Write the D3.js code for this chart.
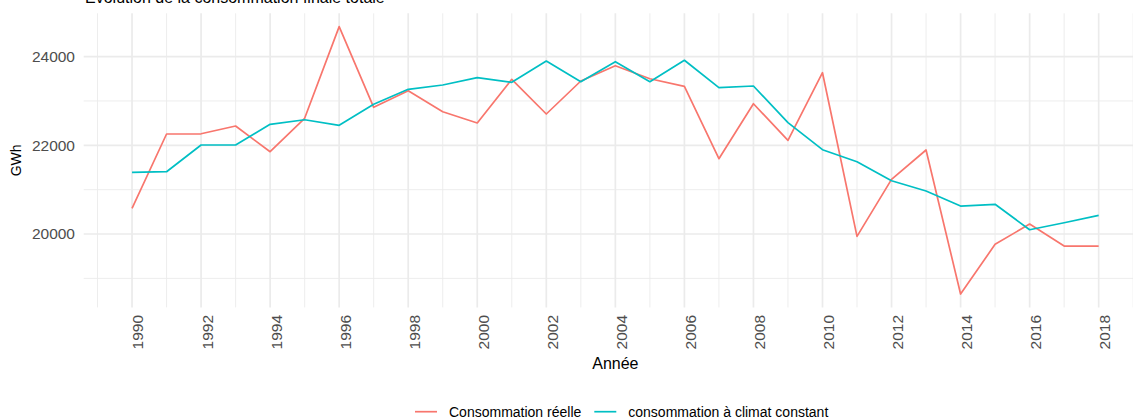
<!DOCTYPE html>
<html>
<head>
<meta charset="utf-8">
<script src="https://cdn.jsdelivr.net/npm/d3@7"></script>
<style>
  body { margin: 0; background: #fff; }
  svg { display: block; font-family: "Liberation Sans", Arial, sans-serif; }
</style>
</head>
<body>
<div id="chart"></div>
<script>
// Data
const years = d3.range(1990, 2019);
const consoReelle = [20580, 22255, 22260, 22435, 21856, 22609, 24675, 22857, 23231, 22758,
  22503, 23488, 22706, 23450, 23795, 23500, 23330, 21698, 22938, 22113,
  23637, 19948, 21233, 21894, 18647, 19768, 20225, 19729, 19729];
const consoClimat = [21391, 21405, 22007, 22007, 22474, 22577, 22451, 22925, 23263, 23360,
  23525, 23420, 23901, 23435, 23886, 23435, 23917, 23299, 23337, 22510,
  21901, 21630, 21202, 20970, 20631, 20670, 20097, 20255, 20422];
const yTicks = [20000, 22000, 24000];
const yMinor = [19000, 21000, 23000];
const xTicks = d3.range(1990, 2019, 2);
const xMinor = d3.range(1989, 2020, 2);
const seriesNames = ['Consommation réelle', 'consommation à climat constant'];
const seriesColors = ['#F8766D', '#00BFC4'];

const W = 1133, H = 417;
const panel = {left: 83.7, right: 1147, top: 13.3, bottom: 307.4};

const svg = d3.select('#chart').append('svg')
  .attr('width', W).attr('height', H);

// Scales with ggplot-like 5% expansion
const xExt = d3.extent(years), xPad = (xExt[1] - xExt[0]) * 0.05;
const x = d3.scaleLinear().domain([xExt[0] - xPad, xExt[1] + xPad]).range([panel.left, panel.right]);
const yExt = d3.extent(consoReelle.concat(consoClimat)), yPad = (yExt[1] - yExt[0]) * 0.05;
const y = d3.scaleLinear().domain([yExt[0] - yPad, yExt[1] + yPad]).range([panel.bottom, panel.top]);

// Grid
const grid = svg.append('g').attr('stroke', '#ebebeb').attr('fill', 'none');
grid.selectAll('.ymin').data(yMinor).join('line')
  .attr('x1', panel.left).attr('x2', panel.right)
  .attr('y1', d => y(d)).attr('y2', d => y(d)).attr('stroke-width', 0.9);
grid.selectAll('.xmin').data(xMinor).join('line')
  .attr('x1', d => x(d)).attr('x2', d => x(d))
  .attr('y1', panel.top).attr('y2', panel.bottom).attr('stroke-width', 0.9);
grid.selectAll('.ymaj').data(yTicks).join('line')
  .attr('x1', panel.left).attr('x2', panel.right)
  .attr('y1', d => y(d)).attr('y2', d => y(d)).attr('stroke-width', 1.7);
grid.selectAll('.xmaj').data(xTicks).join('line')
  .attr('x1', d => x(d)).attr('x2', d => x(d))
  .attr('y1', panel.top).attr('y2', panel.bottom).attr('stroke-width', 1.7);

// Lines
const line = d3.line().x((d, i) => x(years[i])).y(d => y(d));
[consoReelle, consoClimat].forEach((s, i) => {
  svg.append('path').datum(s)
    .attr('fill', 'none')
    .attr('stroke', seriesColors[i])
    .attr('stroke-width', 1.7)
    .attr('stroke-linejoin', 'round')
    .attr('d', line);
});

// Axis labels
svg.append('g').selectAll('text').data(yTicks).join('text')
  .attr('x', 75).attr('y', d => y(d)).attr('dy', '0.35em')
  .attr('text-anchor', 'end').attr('fill', '#4d4d4d').style('font-size', '15.5px')
  .text(d => d);

svg.append('g').selectAll('text').data(xTicks).join('text')
  .attr('transform', d => `translate(${x(d) + 6},315) rotate(-90)`)
  .attr('dy', '0.35em')
  .attr('text-anchor', 'end').attr('fill', '#4d4d4d').style('font-size', '15.5px')
  .text(d => d);

// Titles
svg.append('text')
  .attr('x', 85).attr('y', 3)
  .style('font-size', '16px').attr('fill', '#000')
  .text('Évolution de la consommation finale totale');

svg.append('text')
  .attr('x', (panel.left + panel.right) / 2).attr('y', 363).attr('dy', '0.35em')
  .attr('text-anchor', 'middle').style('font-size', '16px').attr('fill', '#000')
  .text('Année');

svg.append('text')
  .attr('transform', `translate(16,${(panel.top + panel.bottom) / 2}) rotate(-90)`)
  .attr('dy', '0.35em')
  .attr('text-anchor', 'middle').style('font-size', '14px').attr('fill', '#000')
  .text('GWh');

// Legend
const legend = svg.append('g').attr('transform', 'translate(0,411.7)');
let lx = 415;
seriesNames.forEach((name, i) => {
  legend.append('line')
    .attr('x1', lx).attr('x2', lx + 22).attr('y1', 0).attr('y2', 0)
    .attr('stroke', seriesColors[i]).attr('stroke-width', 1.7);
  const t = legend.append('text')
    .attr('x', lx + 34).attr('dy', '0.35em')
    .style('font-size', '14px').attr('fill', '#000')
    .text(name);
  lx += 34 + t.node().getComputedTextLength() + 13;
});
</script>
</body>
</html>
